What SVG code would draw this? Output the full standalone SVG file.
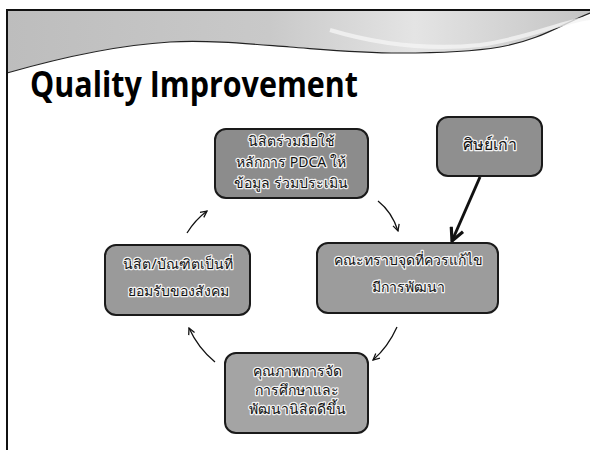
<svg xmlns="http://www.w3.org/2000/svg" width="590" height="450" viewBox="0 0 590 450">
<style>
.box{stroke:#1a1a1a;stroke-width:2}
.t{font-family:"Noto Sans","DejaVu Sans",sans-serif;font-size:14px;fill:#111;text-anchor:middle;stroke:#f2f2f2;stroke-width:2.5;paint-order:stroke;stroke-linejoin:round}
.thin{fill:none;stroke:#111;stroke-width:1.3;marker-end:url(#v)}
.thick{fill:none;stroke:#111;stroke-width:3;marker-end:url(#vb)}
</style>
<defs>
<marker id="v" viewBox="0 0 10 10" refX="9" refY="5" markerWidth="8" markerHeight="8" markerUnits="userSpaceOnUse" orient="auto">
<path d="M1,1 L9,5 L1,9" fill="none" stroke="#111" stroke-width="1.6"/>
</marker>
<marker id="vb" viewBox="0 0 10 10" refX="9" refY="5" markerWidth="16" markerHeight="16" markerUnits="userSpaceOnUse" orient="auto">
<path d="M1,1 L9,5 L1,9" fill="none" stroke="#111" stroke-width="2"/>
</marker>
<linearGradient id="hdr" x1="0" y1="0" x2="1" y2="0">
<stop offset="0" stop-color="#bdbdbd"/>
<stop offset="0.45" stop-color="#c9c9c9"/>
<stop offset="0.7" stop-color="#e4e4e4"/>
<stop offset="1" stop-color="#c4c4c4"/>
</linearGradient>
</defs>
<rect width="590" height="450" fill="#fff"/>
<g id="header">
<path d="M7,10 L590,10 L590,13 C560,25 540,40 500,47 C470,52 440,53 400,53 C360,53 330,50 290,47 C250,44 210,40 170,42 C120,45 70,55 7,73 Z" fill="url(#hdr)"/>
<path d="M7,73 C70,55 120,45 170,42 C210,40 250,44 290,47 C330,50 360,53 400,53 C440,53 470,52 500,47 C540,40 560,25 590,13" fill="none" stroke="#222" stroke-width="1.2"/>
<path d="M330,30 C380,45 430,50 480,45 C530,38 560,22 590,18" fill="none" stroke="#f4f4f4" stroke-width="4" opacity="0.8"/>
<line x1="6" y1="10" x2="590" y2="10" stroke="#111" stroke-width="2"/>
<line x1="7" y1="9" x2="7" y2="450" stroke="#111" stroke-width="2"/>
</g>
<text x="30" y="97" font-family="'Open Sans','Liberation Sans',sans-serif" font-weight="bold" font-size="36" fill="#000" textLength="328" lengthAdjust="spacingAndGlyphs">Quality Improvement</text>
<g id="connectors">
<path class="thin" d="M378,201 Q392,212 398,231"/>
<path class="thick" d="M480,177 L452,241"/>
<path class="thin" d="M397,327 Q388,347 373,360"/>
<path class="thin" d="M215,362 Q198,348 189,328"/>
<path class="thin" d="M187,233 Q195,220 207,211"/>
</g>
<g id="n_top">
<rect class="box" x="215" y="129" width="153" height="69" rx="11" fill="#8c8c8c"/>
<text class="t" x="291" y="146">นิสิตร่วมมือใช้</text>
<text class="t" x="291" y="167">หลักการ PDCA ให้</text>
<text class="t" x="291" y="188">ข้อมูล ร่วมประเมิน</text>
</g>
<g id="n_alumni">
<rect class="box" x="437" y="117" width="105" height="59" rx="11" fill="#8f8f8f"/>
<text class="t" x="490" y="150" style="font-size:16px">ศิษย์เก่า</text>
</g>
<g id="n_right">
<rect class="box" x="317" y="243" width="181" height="70" rx="11" fill="#9c9c9c"/>
<text class="t" x="408" y="265">คณะทราบจุดที่ควรแก้ไข</text>
<text class="t" x="408" y="292">มีการพัฒนา</text>
</g>
<g id="n_bottom">
<rect class="box" x="225" y="353" width="143" height="80" rx="11" fill="#a4a4a4"/>
<text class="t" x="297" y="376">คุณภาพการจัด</text>
<text class="t" x="297" y="395">การศึกษาและ</text>
<text class="t" x="297" y="414">พัฒนานิสิตดีขึ้น</text>
</g>
<g id="n_left">
<rect class="box" x="105" y="245" width="145" height="70" rx="11" fill="#9a9a9a"/>
<text class="t" x="178" y="269">นิสิต/บัณฑิตเป็นที่</text>
<text class="t" x="178" y="296">ยอมรับของสังคม</text>
</g>
</svg>
